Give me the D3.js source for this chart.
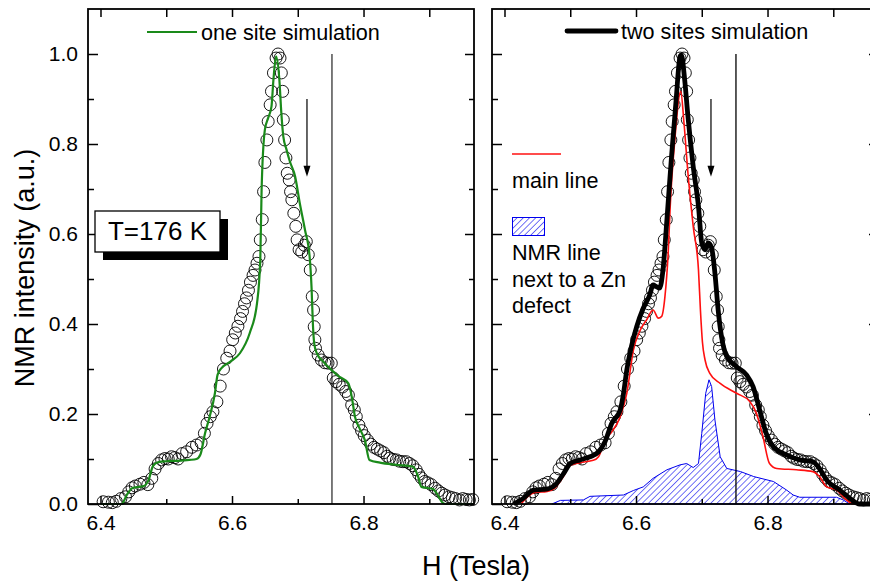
<!DOCTYPE html>
<html>
<head>
<meta charset="utf-8">
<script src="https://cdn.jsdelivr.net/npm/d3@7"></script>
<style>
  html, body { margin: 0; padding: 0; background: #fff; }
  svg { display: block; font-family: "Liberation Sans", Arial, sans-serif; }
</style>
</head>
<body>
<svg id="chart" width="870" height="583"></svg>
<script>
// ---------------- data ----------------
const expH = [6.404,6.412,6.418,6.424,6.431,6.438,6.443,6.448,6.453,6.460,6.466,6.472,6.478,6.483,6.488,6.493,6.498,6.503,6.508,6.513,6.518,6.524,6.531,6.539,6.546,6.553,6.558,6.562,6.567,6.571,6.577,6.582,6.587,6.592,6.597,6.601,6.605,6.609,6.613,6.616,6.619,6.622,6.625,6.628,6.632,6.635,6.638,6.641,6.643,6.646,6.648,6.650,6.653,6.655,6.658,6.660,6.663,6.667,6.670,6.673,6.675,6.677,6.678,6.680,6.682,6.684,6.687,6.689,6.691,6.694,6.697,6.699,6.702,6.706,6.710,6.713,6.716,6.719,6.722,6.724,6.725,6.726,6.727,6.731,6.736,6.741,6.746,6.751,6.754,6.758,6.763,6.768,6.773,6.777,6.782,6.786,6.789,6.793,6.797,6.801,6.806,6.811,6.816,6.821,6.826,6.831,6.836,6.840,6.845,6.850,6.855,6.860,6.865,6.870,6.875,6.880,6.884,6.888,6.893,6.898,6.903,6.909,6.914,6.919,6.924,6.930,6.935,6.940,6.946,6.951,6.956,6.961,6.966];
const expI = [0.005,0.004,0.003,0.006,0.012,0.016,0.027,0.036,0.040,0.044,0.048,0.043,0.057,0.078,0.090,0.098,0.101,0.100,0.105,0.103,0.100,0.112,0.116,0.126,0.131,0.136,0.157,0.179,0.194,0.205,0.227,0.262,0.300,0.324,0.340,0.365,0.380,0.395,0.412,0.428,0.445,0.458,0.475,0.493,0.508,0.520,0.535,0.550,0.587,0.632,0.694,0.759,0.809,0.850,0.887,0.917,0.958,0.991,1.000,0.991,0.958,0.917,0.854,0.809,0.769,0.735,0.720,0.694,0.676,0.646,0.617,0.587,0.565,0.560,0.575,0.583,0.554,0.520,0.461,0.431,0.394,0.365,0.346,0.331,0.320,0.314,0.313,0.313,0.280,0.272,0.266,0.260,0.250,0.242,0.220,0.209,0.194,0.175,0.163,0.152,0.142,0.133,0.126,0.122,0.118,0.114,0.106,0.102,0.099,0.098,0.095,0.094,0.094,0.090,0.085,0.076,0.066,0.058,0.050,0.047,0.043,0.035,0.029,0.024,0.020,0.016,0.014,0.012,0.009,0.012,0.010,0.009,0.010];

const oneSiteH = [6.400,6.432,6.440,6.448,6.458,6.466,6.473,6.480,6.488,6.500,6.516,6.535,6.546,6.552,6.559,6.566,6.574,6.578,6.584,6.597,6.612,6.627,6.638,6.643,6.645,6.650,6.655,6.660,6.663,6.667,6.672,6.675,6.678,6.683,6.688,6.696,6.703,6.711,6.718,6.721,6.723,6.725,6.729,6.739,6.751,6.763,6.777,6.782,6.787,6.794,6.802,6.809,6.825,6.850,6.875,6.883,6.888,6.906,6.911,6.921,6.925,6.968];
const oneSiteI = [0,0,0.020,0.035,0.038,0.040,0.053,0.085,0.093,0.095,0.096,0.098,0.100,0.110,0.157,0.194,0.246,0.287,0.302,0.316,0.335,0.380,0.446,0.543,0.698,0.832,0.858,0.883,0.943,0.995,0.943,0.869,0.817,0.787,0.761,0.728,0.669,0.609,0.550,0.480,0.400,0.357,0.335,0.316,0.298,0.283,0.268,0.239,0.194,0.168,0.142,0.098,0.092,0.087,0.083,0.061,0.038,0.033,0.024,0.002,0,0];

const twoSitesH = [6.414,6.429,6.444,6.464,6.477,6.490,6.500,6.515,6.530,6.543,6.553,6.563,6.576,6.581,6.586,6.593,6.601,6.611,6.621,6.626,6.631,6.636,6.641,6.647,6.654,6.661,6.667,6.669,6.674,6.679,6.687,6.695,6.700,6.705,6.710,6.715,6.720,6.725,6.730,6.738,6.753,6.768,6.778,6.788,6.798,6.809,6.829,6.849,6.869,6.879,6.890,6.910,6.925,6.940,6.968];
const twoSitesI = [0,0.013,0.031,0.033,0.042,0.068,0.090,0.098,0.105,0.116,0.139,0.179,0.209,0.246,0.298,0.350,0.394,0.435,0.465,0.487,0.483,0.480,0.520,0.632,0.772,0.898,0.995,0.998,0.943,0.861,0.750,0.661,0.580,0.565,0.580,0.569,0.513,0.430,0.372,0.328,0.305,0.287,0.261,0.209,0.157,0.127,0.109,0.098,0.094,0.079,0.053,0.031,0.013,0,0];

const mainLineH = [6.425,6.445,6.465,6.477,6.490,6.500,6.515,6.535,6.543,6.553,6.563,6.576,6.586,6.596,6.606,6.616,6.626,6.634,6.639,6.644,6.649,6.652,6.659,6.668,6.673,6.679,6.687,6.695,6.698,6.701,6.705,6.712,6.728,6.753,6.773,6.783,6.793,6.803,6.814,6.844,6.869,6.879,6.890,6.905,6.920,6.930,6.968];
const mainLineI = [0,0.025,0.028,0.036,0.062,0.086,0.092,0.097,0.105,0.142,0.160,0.194,0.246,0.342,0.385,0.409,0.431,0.413,0.417,0.461,0.560,0.661,0.809,0.917,0.846,0.735,0.617,0.520,0.430,0.360,0.320,0.291,0.268,0.246,0.228,0.202,0.150,0.090,0.079,0.076,0.072,0.061,0.038,0.031,0.009,0,0];

const znLineH = [6.472,6.485,6.520,6.530,6.581,6.596,6.611,6.626,6.647,6.667,6.677,6.687,6.695,6.700,6.706,6.711,6.715,6.720,6.728,6.738,6.759,6.779,6.809,6.829,6.839,6.849,6.905,6.915,6.925];
const znLineI = [0,0.008,0.009,0.017,0.020,0.030,0.038,0.057,0.076,0.087,0.090,0.081,0.090,0.157,0.246,0.276,0.261,0.187,0.105,0.079,0.072,0.061,0.050,0.031,0.020,0.015,0.015,0.009,0];

const xMajorTicks = [6.4, 6.6, 6.8];
const xMinorTicks = [6.5, 6.7, 6.9];
const yMajorTicks = [0, 0.2, 0.4, 0.6, 0.8, 1.0];
const yMinorTicks = [0.1, 0.3, 0.5, 0.7, 0.9];
const markerH = 6.752;      // vertical reference line
const arrowH = 6.714;       // arrow position
const arrowFrom = 0.90, arrowTo = 0.727;

// ---------------- layout ----------------
const svg = d3.select("#chart");
const plotTop = 9, plotBottom = 504;
const y = d3.scaleLinear().domain([0, 1.1]).range([plotBottom, plotTop]);
const panels = [
  { x0: 88, x1: 474, labels: true },
  { x0: 492, x1: 878, labels: false }
];
const legendFont = 21.6;

const defs = svg.append("defs");
const pat = defs.append("pattern").attr("id", "hatch")
  .attr("patternUnits", "userSpaceOnUse").attr("width", 4.4).attr("height", 4.4)
  .attr("patternTransform", "rotate(45)");
pat.append("line").attr("x1", 0).attr("y1", 0).attr("x2", 0).attr("y2", 4.4)
  .attr("stroke", "#0000ee").attr("stroke-width", 1.1);

const zip = (a, b) => a.map((v, i) => [v, b[i]]);

function drawAxes(g, x, p) {
  const styleTicks = sel => {
    sel.select(".domain").remove();
    sel.selectAll(".tick line").attr("stroke", "#000").attr("stroke-width", 1.5);
    sel.selectAll(".tick text").attr("fill", "#000")
      .style("font-family", "'Liberation Sans', Arial, sans-serif").style("font-size", "21px");
  };
  g.append("g").attr("transform", `translate(0,${plotBottom})`)
    .call(d3.axisBottom(x).tickValues(xMajorTicks).tickSize(-8).tickPadding(11)
      .tickFormat(d3.format(".1f"))).call(styleTicks);
  g.append("g").attr("transform", `translate(0,${plotBottom})`)
    .call(d3.axisBottom(x).tickValues(xMinorTicks).tickSize(-5).tickFormat("")).call(styleTicks);
  g.append("g").attr("transform", `translate(0,${plotTop})`)
    .call(d3.axisTop(x).tickValues(xMajorTicks).tickSize(-8).tickFormat("")).call(styleTicks);
  g.append("g").attr("transform", `translate(0,${plotTop})`)
    .call(d3.axisTop(x).tickValues(xMinorTicks).tickSize(-8).tickFormat("")).call(styleTicks);
  const left = d3.axisLeft(y).tickValues(yMajorTicks).tickSize(-10).tickPadding(10)
    .tickFormat(p.labels ? d3.format(".1f") : "");
  g.append("g").attr("transform", `translate(${p.x0},0)`).call(left).call(styleTicks);
  g.append("g").attr("transform", `translate(${p.x0},0)`)
    .call(d3.axisLeft(y).tickValues(yMinorTicks).tickSize(-6).tickFormat("")).call(styleTicks);
  g.append("g").attr("transform", `translate(${p.x1},0)`)
    .call(d3.axisRight(y).tickValues(yMajorTicks).tickSize(-9).tickFormat("")).call(styleTicks);
  g.append("g").attr("transform", `translate(${p.x1},0)`)
    .call(d3.axisRight(y).tickValues(yMinorTicks).tickSize(-5).tickFormat("")).call(styleTicks);
  g.append("rect").attr("x", p.x0).attr("y", plotTop).attr("width", p.x1 - p.x0)
    .attr("height", plotBottom - plotTop).attr("fill", "none").attr("stroke", "#000").attr("stroke-width", 1.8);
}

function drawCircles(g, x) {
  g.append("g").selectAll("circle").data(zip(expH, expI)).join("circle")
    .attr("cx", d => x(d[0])).attr("cy", d => y(d[1])).attr("r", 6)
    .attr("fill", "none").attr("stroke", "#000").attr("stroke-width", 0.9);
}

function drawMarkers(g, x, color) {
  g.append("line").attr("x1", x(markerH)).attr("x2", x(markerH))
    .attr("y1", y(1.0)).attr("y2", y(0)).attr("stroke", color).attr("stroke-width", 1.3);
  const ax = x(arrowH);
  g.append("line").attr("x1", ax).attr("x2", ax).attr("y1", y(arrowFrom)).attr("y2", y(arrowTo) - 9)
    .attr("stroke", "#000").attr("stroke-width", 1.2);
  g.append("path").attr("d", `M${ax - 3.5},${y(arrowTo) - 11} L${ax + 3.5},${y(arrowTo) - 11} L${ax},${y(arrowTo)} Z`)
    .attr("fill", "#000");
}

// ---------- left panel ----------
{
  const p = panels[0];
  const x = d3.scaleLinear().domain([6.381, 6.968]).range([p.x0, p.x1]);
  const g = svg.append("g");
  drawMarkers(g, x, "#333");
  drawCircles(g, x);
  const line = d3.line().x(d => x(d[0])).y(d => y(d[1])).curve(d3.curveMonotoneX);
  g.append("path").attr("d", line(zip(oneSiteH, oneSiteI)))
    .attr("fill", "none").attr("stroke", "#1a8a1a").attr("stroke-width", 2.2);
  drawAxes(g, x, p);

  g.append("line").attr("x1", 147).attr("x2", 197).attr("y1", 32).attr("y2", 32)
    .attr("stroke", "#1a8a1a").attr("stroke-width", 2.2);
  g.append("text").attr("x", 201).attr("y", 39.5).attr("font-size", legendFont).text("one site simulation");

  g.append("rect").attr("x", 103).attr("y", 219).attr("width", 125).attr("height", 41).attr("fill", "#000");
  g.append("rect").attr("x", 95).attr("y", 211).attr("width", 125).attr("height", 41)
    .attr("fill", "#fff").attr("stroke", "#000").attr("stroke-width", 1.3);
  g.append("text").attr("x", 157.5).attr("y", 240).attr("text-anchor", "middle")
    .attr("font-size", 26).text("T=176 K");
}

// ---------- right panel ----------
{
  const p = panels[1];
  const x = d3.scaleLinear().domain([6.381, 6.968]).range([p.x0, p.x1]);
  const g = svg.append("g");
  const area = d3.area().x(d => x(d[0])).y0(y(0)).y1(d => y(d[1]));
  g.append("path").attr("d", area(zip(znLineH, znLineI)))
    .attr("fill", "url(#hatch)").attr("stroke", "#0000ee").attr("stroke-width", 1);
  drawMarkers(g, x, "#000");
  drawCircles(g, x);
  const line = d3.line().x(d => x(d[0])).y(d => y(d[1])).curve(d3.curveMonotoneX);
  g.append("path").attr("d", line(zip(mainLineH, mainLineI)))
    .attr("fill", "none").attr("stroke", "#ff1010").attr("stroke-width", 1.6);
  g.append("path").attr("d", line(zip(twoSitesH, twoSitesI)))
    .attr("fill", "none").attr("stroke", "#000").attr("stroke-width", 4.8)
    .attr("stroke-linejoin", "round");
  drawAxes(g, x, p);

  g.append("line").attr("x1", 567).attr("x2", 616).attr("y1", 31).attr("y2", 31)
    .attr("stroke", "#000").attr("stroke-width", 4.8).attr("stroke-linecap", "round");
  g.append("text").attr("x", 621).attr("y", 39).attr("font-size", legendFont).text("two sites simulation");

  g.append("line").attr("x1", 512).attr("x2", 561).attr("y1", 154).attr("y2", 154)
    .attr("stroke", "#ff1010").attr("stroke-width", 1.6);
  g.append("text").attr("x", 512).attr("y", 188).attr("font-size", legendFont).text("main line");

  g.append("rect").attr("x", 512.5).attr("y", 217.5).attr("width", 32).attr("height", 18)
    .attr("fill", "url(#hatch)").attr("stroke", "#0000ee").attr("stroke-width", 1);
  const lines = ["NMR line", "next to a Zn", "defect"];
  g.append("g").selectAll("text").data(lines).join("text")
    .attr("x", 512).attr("y", (d, i) => 260 + i * 26.5).attr("font-size", legendFont).text(d => d);
}

svg.append("text").attr("transform", "translate(34,268) rotate(-90)")
  .attr("text-anchor", "middle").attr("font-size", 27).text("NMR intensity (a.u.)");
svg.append("text").attr("x", 476).attr("y", 575).attr("text-anchor", "middle")
  .attr("font-size", 27).text("H (Tesla)");
</script>
</body>
</html>
